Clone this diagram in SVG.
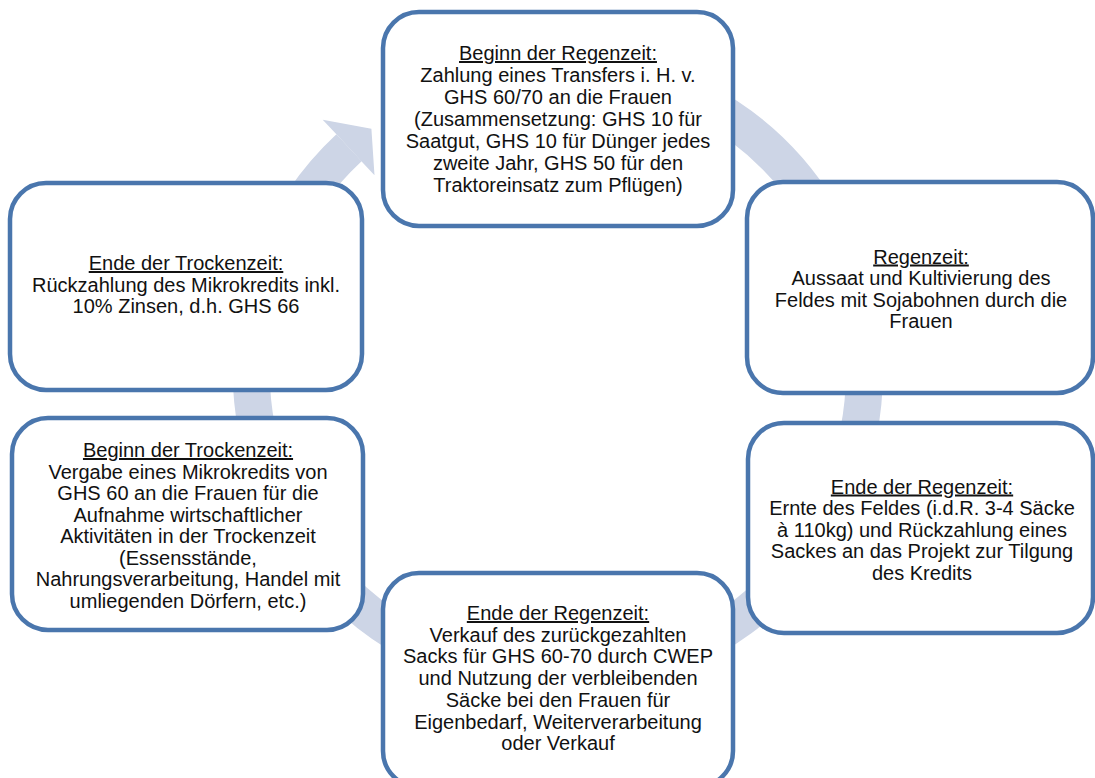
<svg xmlns="http://www.w3.org/2000/svg" width="1095" height="778" viewBox="0 0 1095 778">
<style>
.box{fill:#fff;stroke:#4a76ad;stroke-width:4.5}
.t{font-family:"Liberation Sans",Arial,sans-serif;font-size:20px;fill:#111;text-anchor:middle}
.h{text-decoration:underline}
.ring{fill:none;stroke:#cdd5e6;stroke-width:37}
.head{fill:#cdd5e6}
</style>
<rect width="1095" height="778" fill="#fff"/>
<g id="connectors">
<path class="ring" d="M404.75,106.6 A306.5,306.5 0 1 1 349.0,147.8"/>
<polygon class="head" points="336.4,134.3 322.7,119.7 371.4,128.8 374.5,175.3 361.6,161.4"/>
</g>
<g id="node-beginn-regenzeit">
<rect class="box" x="383" y="12" width="350" height="214" rx="36"/>
<text class="t" x="558" y="60"><tspan class="h">Beginn der Regenzeit:</tspan></text>
<text class="t" x="558" y="82">Zahlung eines Transfers i. H. v.</text>
<text class="t" x="558" y="104">GHS 60/70 an die Frauen</text>
<text class="t" x="558" y="126">(Zusammensetzung: GHS 10 für</text>
<text class="t" x="558" y="148">Saatgut, GHS 10 für Dünger jedes</text>
<text class="t" x="558" y="170">zweite Jahr, GHS 50 für den</text>
<text class="t" x="558" y="192">Traktoreinsatz zum Pflügen)</text>
</g>
<g id="node-regenzeit">
<rect class="box" x="747" y="182" width="346" height="211" rx="36"/>
<text class="t" x="921" y="263.5"><tspan class="h">Regenzeit:</tspan></text>
<text class="t" x="921" y="285.1">Aussaat und Kultivierung des</text>
<text class="t" x="921" y="306.7">Feldes mit Sojabohnen durch die</text>
<text class="t" x="921" y="328.3">Frauen</text>
</g>
<g id="node-ende-regenzeit-ernte">
<rect class="box" x="748" y="423" width="345" height="210" rx="36"/>
<text class="t" x="922" y="493.5"><tspan class="h">Ende der Regenzeit:</tspan></text>
<text class="t" x="922" y="515.1">Ernte des Feldes (i.d.R. 3-4 Säcke</text>
<text class="t" x="922" y="536.7">à 110kg) und Rückzahlung eines</text>
<text class="t" x="922" y="558.3">Sackes an das Projekt zur Tilgung</text>
<text class="t" x="922" y="579.9">des Kredits</text>
</g>
<g id="node-ende-regenzeit-verkauf">
<rect class="box" x="383" y="573" width="350" height="214" rx="36"/>
<text class="t" x="558" y="620"><tspan class="h">Ende der Regenzeit:</tspan></text>
<text class="t" x="558" y="641.7">Verkauf des zurückgezahlten</text>
<text class="t" x="558" y="663.4">Sacks für GHS 60-70 durch CWEP</text>
<text class="t" x="558" y="685.1">und Nutzung der verbleibenden</text>
<text class="t" x="558" y="706.8">Säcke bei den Frauen für</text>
<text class="t" x="558" y="728.5">Eigenbedarf, Weiterverarbeitung</text>
<text class="t" x="558" y="750.2">oder Verkauf</text>
</g>
<g id="node-beginn-trockenzeit">
<rect class="box" x="12" y="418" width="351" height="212" rx="36"/>
<text class="t" x="188" y="457"><tspan class="h">Beginn der Trockenzeit:</tspan></text>
<text class="t" x="188" y="478.5">Vergabe eines Mikrokredits von</text>
<text class="t" x="188" y="500">GHS 60 an die Frauen für die</text>
<text class="t" x="188" y="521.5">Aufnahme wirtschaftlicher</text>
<text class="t" x="188" y="543">Aktivitäten in der Trockenzeit</text>
<text class="t" x="188" y="564.5">(Essensstände,</text>
<text class="t" x="188" y="586">Nahrungsverarbeitung, Handel mit</text>
<text class="t" x="188" y="607.5">umliegenden Dörfern, etc.)</text>
</g>
<g id="node-ende-trockenzeit">
<rect class="box" x="10" y="183" width="352" height="207" rx="36"/>
<text class="t" x="186" y="270"><tspan class="h">Ende der Trockenzeit:</tspan></text>
<text class="t" x="186" y="291.6">Rückzahlung des Mikrokredits inkl.</text>
<text class="t" x="186" y="313.2">10% Zinsen, d.h. GHS 66</text>
</g>
</svg>
